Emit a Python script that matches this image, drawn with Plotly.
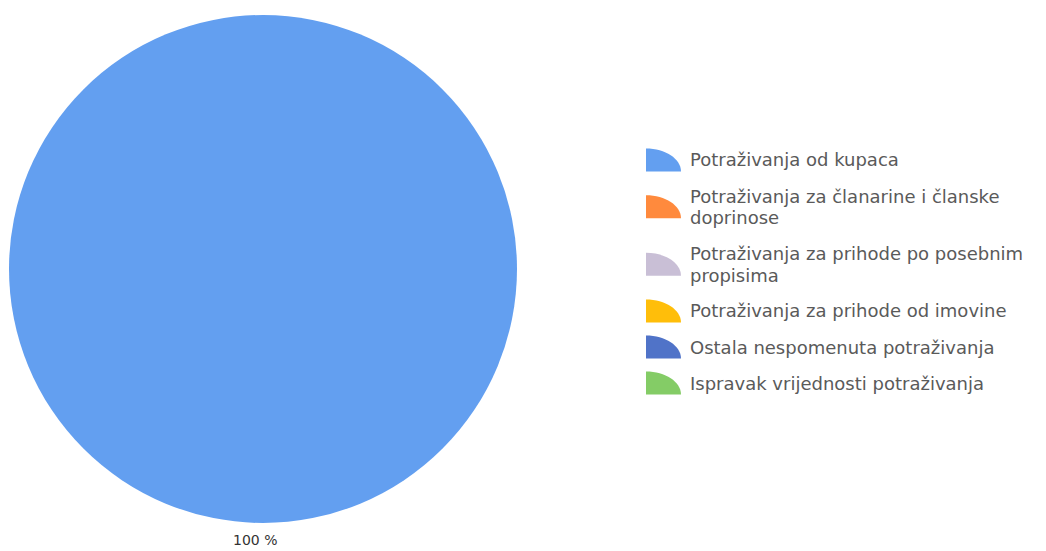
import textwrap
import plotly.graph_objects as go

# Structure of receivables (share of total)
categories = [
    "Potraživanja od kupaca",
    "Potraživanja za članarine i članske doprinose",
    "Potraživanja za prihode po posebnim propisima",
    "Potraživanja za prihode od imovine",
    "Ostala nespomenuta potraživanja",
    "Ispravak vrijednosti potraživanja",
]
values = [100, 0, 0, 0, 0, 0]
colors = ["#639FF0", "#FF8A3D", "#C9BFD6", "#FFBE0A", "#5073C8", "#84CC66"]

W, H = 1046, 551


def px(x, y):
    """Pixel position -> paper coordinates."""
    return x / W, 1 - y / H


total = sum(values)
slice_text = [f"{v / total * 100:.0f} %" if v else "" for v in values]

# Pie placement (pixels)
cx, cy, r = 263, 269, 254
x0, y1 = px(cx - r, cy - r)
x1, y0 = px(cx + r, cy + r)

fig = go.Figure(
    go.Pie(
        labels=categories,
        values=values,
        textinfo="none",
        marker=dict(colors=colors, line=dict(width=0)),
        sort=False,
        direction="clockwise",
        rotation=0,
        showlegend=False,
        hoverinfo="label+percent",
        domain=dict(x=[x0, x1], y=[y0, y1]),
    )
)

shapes, annotations = [], []

# Percentage label under the (single, full) slice
for t in slice_text:
    if t:
        lx, ly = px(cx - 8, cy + r + 17)
        annotations.append(dict(
            x=lx, y=ly, xref="paper", yref="paper", text=t, showarrow=False,
            xanchor="center", yanchor="middle",
            font=dict(family="DejaVu Sans", size=14, color="#333333"),
        ))

# Custom legend: quarter-ellipse swatches with wrapped labels
line_h = 21.5
item_gap = 36
leg_icon_x = 646
rx, ry = 35, 23
k = 0.5523
text_x = 688
first_center = 160
for name, col in zip(categories, colors):
    lines = textwrap.wrap(name, 35)
    block_center = first_center + (len(lines) - 1) * line_h / 2
    # swatch: quarter ellipse with its centre at the bottom-left corner
    bx, by = leg_icon_x, block_center + ry / 2
    pts = [
        (bx, by),
        (bx, by - ry),
        (bx + k * rx, by - ry),
        (bx + rx, by - k * ry),
        (bx + rx, by),
    ]
    p = [px(*q) for q in pts]
    path = (
        f"M {p[0][0]},{p[0][1]} L {p[1][0]},{p[1][1]} "
        f"C {p[2][0]},{p[2][1]} {p[3][0]},{p[3][1]} {p[4][0]},{p[4][1]} Z"
    )
    shapes.append(dict(type="path", path=path, xref="paper", yref="paper",
                       fillcolor=col, line=dict(width=0), layer="above"))
    for i, ln in enumerate(lines):
        lx, ly = px(text_x, first_center + i * line_h)
        annotations.append(dict(
            x=lx, y=ly, xref="paper", yref="paper", text=ln, showarrow=False,
            xanchor="left", yanchor="middle",
            font=dict(family="DejaVu Sans", size=18, color="#5a5a5a"),
        ))
    first_center += (len(lines) - 1) * line_h + item_gap

fig.update_layout(
    width=W,
    height=H,
    margin=dict(l=0, r=0, t=0, b=0),
    paper_bgcolor="white",
    plot_bgcolor="white",
    shapes=shapes,
    annotations=annotations,
)

fig.write_html("out.html")
